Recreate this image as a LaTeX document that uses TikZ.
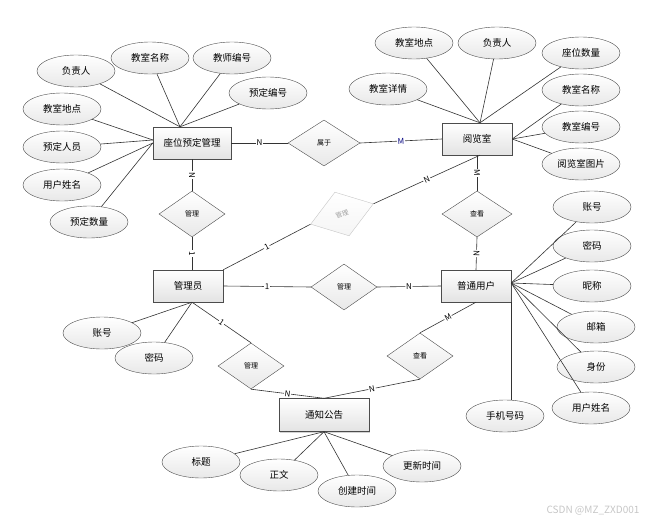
\documentclass[tikz,border=0pt]{standalone}
\usepackage{fontspec}
\setmainfont{Noto Sans CJK SC}
\usetikzlibrary{shapes,positioning,shadows,calc}
\tikzset{
    entity/.style={draw=gray!60!black, rectangle, minimum width=70pt, minimum height=32pt, top color=white, bottom color=gray!22, drop shadow={shadow xshift=1.2pt, shadow yshift=-1.2pt, opacity=0.35}, font=\fontsize{9.5}{11}\selectfont},
    attr/.style={draw=gray!60!black, ellipse, minimum width=78pt, minimum height=32pt, inner sep=0pt, top color=white, bottom color=gray!18, font=\fontsize{9.5}{11}\selectfont},
    rel/.style={draw=gray!60!black, diamond, minimum width=66pt, minimum height=46pt, inner sep=0pt, top color=white, bottom color=gray!18, font=\fontsize{7}{8}\selectfont},
    link/.style={draw=gray!40!black, line width=0.6pt},
    card/.style={fill=white, inner sep=0.8pt, font=\fontsize{8}{9}\selectfont, sloped}
}

\begin{document}
\begin{tikzpicture}[x=1pt, y=-1pt]
                \useasboundingbox (0,0) rectangle (648,522);

                \node[entity, minimum width=78pt] (booking) at (192,143) {座位预定管理};
                \node[entity] (room) at (477,139) {阅览室};
                \node[entity] (admin) at (188,286) {管理员};
                \node[entity] (user) at (476,286) {普通用户};
                \node[entity, minimum width=90pt, minimum height=33pt] (notice) at (324,415) {通知公告};

                \node[rel, minimum width=72pt] (belongs) at (324,143) {属于};
                \node[rel] (manageA) at (192,214) {管理};
                \node[rel, minimum width=70pt] (viewA) at (477,214) {查看};
                \node[rel] (manageB) at (344,287) {管理};
                \node[rel] (manageC) at (251,366) {管理};
                \node[rel] (viewB) at (420,356) {查看};
                \node[rel, rotate=18, draw=gray!45, text=gray!75, bottom color=gray!8, font=\fontsize{6.5}{7}\selectfont] (manageD) at (342,214) {管理};

                \node[attr] (bkHead) at (76,71) {负责人};
                \node[attr] (bkRoomName) at (150,58) {教室名称};
                \node[attr] (bkTeacherNo) at (232,58) {教师编号};
                \node[attr] (bkNo) at (268,93) {预定编号};
                \node[attr] (bkPlace) at (62,109) {教室地点};
                \node[attr] (bkPerson) at (62,147) {预定人员};
                \node[attr] (bkUserName) at (62,185) {用户姓名};
                \node[attr] (bkCount) at (89,222) {预定数量};

                \node[attr] (rmPlace) at (414,43) {教室地点};
                \node[attr] (rmHead) at (497,43) {负责人};
                \node[attr] (rmSeats) at (581,53) {座位数量};
                \node[attr] (rmDetail) at (388,89) {教室详情};
                \node[attr] (rmName) at (581,90) {教室名称};
                \node[attr] (rmNo) at (581,127) {教室编号};
                \node[attr] (rmPic) at (581,164) {阅览室图片};

                \node[attr] (usAccount) at (592,207) {账号};
                \node[attr] (usPassword) at (592,246) {密码};
                \node[attr] (usNick) at (592,286) {昵称};
                \node[attr] (usMail) at (596,327) {邮箱};
                \node[attr] (usRole) at (596,367) {身份};
                \node[attr] (usName) at (591,408) {用户姓名};
                \node[attr] (usPhone) at (505,416) {手机号码};

                \node[attr] (adAccount) at (102,333) {账号};
                \node[attr] (adPassword) at (154,358) {密码};

                \node[attr] (ntTitle) at (201,462) {标题};
                \node[attr] (ntBody) at (279,475) {正文};
                \node[attr] (ntCreated) at (357,491) {创建时间};
                \node[attr] (ntUpdated) at (422,466) {更新时间};

                \node[text=gray!45, font=\fontsize{10}{12}\selectfont, anchor=east] (mark) at (643,511) {CSDN @MZ\_ZXD001};

                \coordinate (bkTop) at ([xshift=-12pt]booking.north);
                \coordinate (rmTop) at ([xshift=3pt]room.north);
                \coordinate (usHub) at ([yshift=3pt]user.east);
                \coordinate (adHub) at ([xshift=4pt]admin.south);

                \draw[link] (bkHead) -- (bkTop);
                \draw[link] (bkRoomName) -- (bkTop);
                \draw[link] (bkTeacherNo) -- (bkTop);
                \draw[link] (bkNo) -- (bkTop);
                \draw[link] (bkPlace) -- ([yshift=3pt]booking.west);
                \draw[link] (bkPerson) -- ([yshift=3pt]booking.west);
                \draw[link] (bkUserName) -- (booking.west);
                \draw[link] (bkCount) -- (booking.west);

                \draw[link] (rmPlace) -- (rmTop);
                \draw[link] (rmHead) -- (rmTop);
                \draw[link] (rmSeats) -- (rmTop);
                \draw[link] (rmDetail) -- (rmTop);
                \draw[link] (rmName) -- (room.east);
                \draw[link] (rmNo) -- (room.east);
                \draw[link] (rmPic) -- (room.east);

                \draw[link] (usAccount) -- (usHub);
                \draw[link] (usPassword) -- (usHub);
                \draw[link] (usNick) -- (usHub);
                \draw[link] (usMail) -- (usHub);
                \draw[link] (usRole) -- (usHub);
                \draw[link] (usName) -- (usHub);
                \draw[link] (user.south east) -- (user.south east |- usPhone.north);

                \draw[link] (adAccount) -- (adHub);
                \draw[link] (adPassword) -- (adHub);

                \draw[link] (ntTitle) -- (notice.south);
                \draw[link] (ntBody) -- (notice.south);
                \draw[link] (ntCreated) -- (notice.south);
                \draw[link] (ntUpdated) -- (notice.south);

                \draw[link] (booking.east) -- node[card] {N} (belongs.west);
                \draw[link] (belongs.east) -- node[card, text=blue!50!black] {M} (room.west);
                \draw[link] (booking.south) -- node[card] {N} (manageA.north);
                \draw[link] (manageA.south) -- node[card] {1} (manageA.south |- admin.north);
                \draw[link] (room.south) -- node[card] {M} (viewA.north);
                \draw[link] (viewA.south) -- node[card] {N} (user.north);
                \draw[link] (admin.east) -- node[card] {1} (manageB.west);
                \draw[link] (manageB.east) -- node[card] {N} (user.west);
                \draw[link] (admin.north east) -- node[card] {1} (manageD.west);
                \draw[link] (manageD.east) -- node[card] {N} ([xshift=3pt]room.south);
                \draw[link] (adHub) -- node[card] {1} (manageC.north);
                \draw[link] (manageC.south) -- node[card] {N} (notice.north);
                \draw[link] (user.south) -- node[card] {M} (viewB.north);
                \draw[link] (viewB.south) -- node[card] {N} (notice.north);
            \end{tikzpicture}
\end{document}
